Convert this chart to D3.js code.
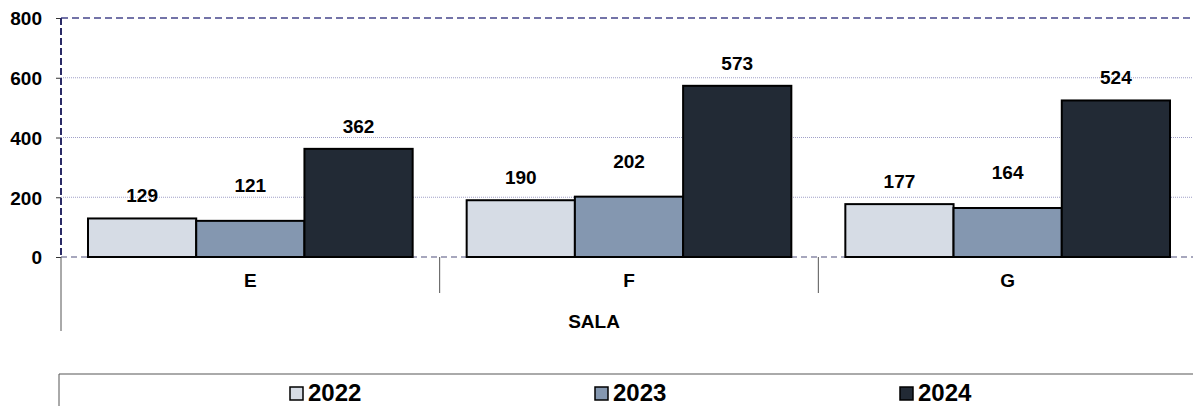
<!DOCTYPE html>
<html>
<head>
<meta charset="utf-8">
<script src="https://cdn.jsdelivr.net/npm/d3@7"></script>
<style>
  body { margin: 0; background: #fff; }
  text { font-family: "Liberation Sans", Arial, sans-serif; font-weight: bold; fill: #000; }
</style>
</head>
<body>
<script>
var categories = ["E", "F", "G"]
var seriesNames = ["2022", "2023", "2024"]
var values2022 = [129, 190, 177]
var values2023 = [121, 202, 164]
var values2024 = [362, 573, 524]
var yTicks = [0, 200, 400, 600, 800]
var axisTitle = "SALA"

var colors = ["#d6dce5", "#8497b0", "#222a35"]
var labelLift = [16, 29, 16]   // label gap above each series' bars

var width = 1193, height = 406
var margin = {top: 18, left: 61, right: -4, bottom: 149}
var plotW = width - margin.left - margin.right
var plotH = height - margin.top - margin.bottom

var series = [values2022, values2023, values2024]
var table = categories.map(function(c, i) {
  return {cat: c, vals: series.map(function(s, j) { return {name: seriesNames[j], v: s[i], k: j} })}
})

var svg = d3.select("body").append("svg")
    .attr("width", width)
    .attr("height", height)

var g = svg.append("g")
    .attr("transform", "translate(" + margin.left + "," + margin.top + ")")

var x = d3.scaleBand()
    .domain(categories)
    .range([0, plotW])
    .paddingInner(0)
    .paddingOuter(0)

var inner = d3.scaleBand()
    .domain(seriesNames)
    .range([27, x.bandwidth() - 27])

var y = d3.scaleLinear()
    .domain([0, 800])
    .range([plotH, 0])

// gridlines
g.selectAll(".grid")
    .data(yTicks.filter(function(d) { return d > 0 && d < 800 }))
  .enter().append("line")
    .attr("x1", 0).attr("x2", plotW)
    .attr("y1", y).attr("y2", y)
    .attr("stroke", "#a0a0c8")
    .attr("stroke-width", 1)
    .attr("stroke-dasharray", "1,1")

// top border dashed
g.append("line")
    .attr("x1", 0).attr("x2", plotW)
    .attr("y1", y(800)).attr("y2", y(800))
    .attr("stroke", "#7373a8")
    .attr("stroke-width", 2)
    .attr("stroke-dasharray", "7,4")

// bottom border dashed
g.append("line")
    .attr("x1", 0).attr("x2", plotW)
    .attr("y1", y(0)).attr("y2", y(0))
    .attr("stroke", "#8a8aa8")
    .attr("stroke-width", 1.5)
    .attr("stroke-dasharray", "6,4")

// bars
var grp = g.selectAll(".grp")
    .data(table)
  .enter().append("g")
    .attr("transform", function(d) { return "translate(" + x(d.cat) + ",0)" })

grp.selectAll("rect")
    .data(function(d) { return d.vals })
  .enter().append("rect")
    .attr("x", function(d) { return inner(d.name) })
    .attr("y", function(d) { return y(d.v) })
    .attr("width", inner.bandwidth())
    .attr("height", function(d) { return plotH - y(d.v) })
    .attr("fill", function(d) { return colors[d.k] })
    .attr("stroke", "#000")
    .attr("stroke-width", 2)

grp.selectAll(".lbl")
    .data(function(d) { return d.vals })
  .enter().append("text")
    .attr("class", "lbl")
    .attr("x", function(d) { return inner(d.name) + inner.bandwidth() / 2 })
    .attr("y", function(d) { return y(d.v) - labelLift[d.k] })
    .attr("text-anchor", "middle")
    .attr("font-size", 19)
    .text(function(d) { return d.v })

// y axis
var yAxis = g.append("g")
    .call(d3.axisLeft(y).tickValues(yTicks).tickSize(5).tickPadding(14))
yAxis.select(".domain").remove()
yAxis.selectAll(".tick line").attr("stroke", "#333")
yAxis.selectAll(".tick text")
    .attr("font-size", 19)
    .attr("dy", "0.36em")
    .attr("font-family", "Liberation Sans, Arial, sans-serif")
    .attr("font-weight", "bold")
    .attr("fill", "#000")

g.append("line")
    .attr("x1", 0).attr("x2", 0)
    .attr("y1", y(800)).attr("y2", y(0))
    .attr("stroke", "#2a2a66")
    .attr("stroke-width", 2)
    .attr("stroke-dasharray", "7,3")

// category axis below
g.append("line")
    .attr("x1", 0).attr("x2", 0)
    .attr("y1", y(0)).attr("y2", y(0) + 74)
    .attr("stroke", "#555")

g.selectAll(".divider")
    .data(categories.slice(1))
  .enter().append("line")
    .attr("x1", function(d) { return x(d) }).attr("x2", function(d) { return x(d) })
    .attr("y1", y(0)).attr("y2", y(0) + 36)
    .attr("stroke", "#555")

g.selectAll(".cat")
    .data(categories)
  .enter().append("text")
    .attr("x", function(d) { return x(d) + x.bandwidth() / 2 })
    .attr("y", y(0) + 30)
    .attr("text-anchor", "middle")
    .attr("font-size", 19)
    .text(function(d) { return d })

g.append("text")
    .attr("x", 594 - margin.left)
    .attr("y", y(0) + 71)
    .attr("text-anchor", "middle")
    .attr("font-size", 19)
    .text(axisTitle)

// legend
var lg = svg.append("g")
svg.append("line")
    .attr("x1", 59).attr("x2", width)
    .attr("y1", 374).attr("y2", 374)
    .attr("stroke", "#aaa").attr("stroke-width", 2)
svg.append("line")
    .attr("x1", 59).attr("x2", 59)
    .attr("y1", 374).attr("y2", height)
    .attr("stroke", "#555").attr("stroke-width", 1)

var legendX = d3.scalePoint().domain(seriesNames).range([290, 900])
var item = lg.selectAll(".item")
    .data(seriesNames)
  .enter().append("g")
    .attr("transform", function(d) { return "translate(" + legendX(d) + ",387)" })
item.append("rect")
    .attr("x", 0).attr("y", 0)
    .attr("width", 13).attr("height", 13)
    .attr("fill", function(d, i) { return colors[i] })
    .attr("stroke", "#000").attr("stroke-width", 1.5)
item.append("text")
    .attr("x", 18).attr("y", 14)
    .attr("font-size", 24)
    .text(function(d) { return d })
</script>
</body>
</html>
